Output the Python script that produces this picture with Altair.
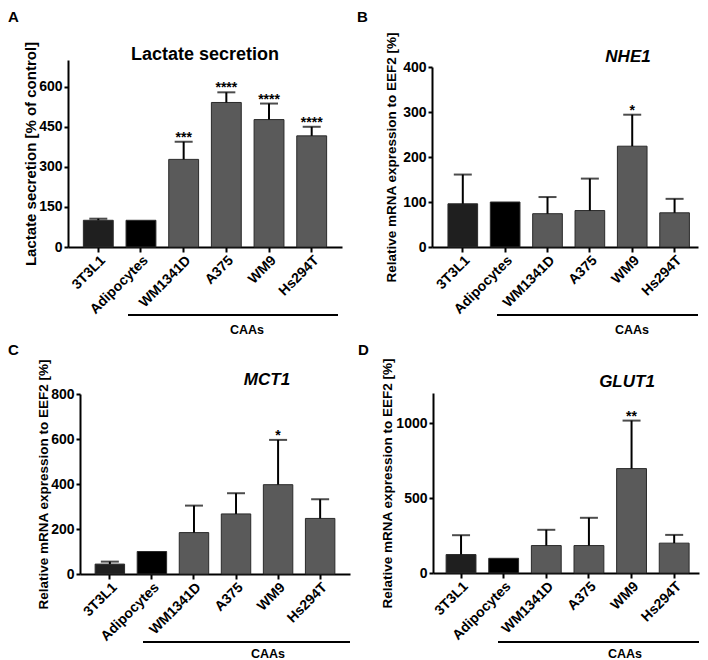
import altair as alt
import pandas as pd

categories = ["3T3L1", "Adipocytes", "WM1341D", "A375", "WM9", "Hs294T"]
bar_colors = ["#1f1f1f", "#000000", "#5a5a5a", "#5a5a5a", "#5a5a5a", "#5a5a5a"]

lactate_mean = [100, 100, 328, 541, 477, 416]
lactate_upper = [106, 100, 394, 579, 537, 450]
lactate_sig = ["", "", "***", "****", "****", "****"]

nhe1_mean = [96, 100, 74, 81, 224, 76]
nhe1_upper = [161, 100, 111, 152, 294, 107]
nhe1_sig = ["", "", "", "", "*", ""]

mct1_mean = [44, 100, 184, 267, 397, 247]
mct1_upper = [55, 100, 304, 359, 596, 332]
mct1_sig = ["", "", "", "", "*", ""]

glut1_mean = [123, 98, 183, 183, 696, 199]
glut1_upper = [252, 98, 288, 368, 1016, 254]
glut1_sig = ["", "", "", "", "**", ""]

group_label = "CAAs"
ytitle_lactate = "Lactate secretion [% of control]"
ytitle_mrna = "Relative mRNA expression to EEF2 [%]"

FONT = "Liberation Sans"


def one(v):
    return alt.Chart(pd.DataFrame({"t": [v]}))


def panel(cfg):
    w, h = cfg["w"], cfg["h"]
    x0 = cfg["x0"]
    df = pd.DataFrame({"cat": categories, "mean": cfg["mean"], "upper": cfg["upper"], "sig": cfg["sig"]})
    xscale = alt.Scale(domain=categories, paddingInner=0.3, paddingOuter=cfg["po"],
                       align=cfg["al"], range=[x0, w])
    xaxis = alt.Axis(title=None, labelAngle=-45, labelFontSize=14, labelFontWeight="bold",
                     tickSize=5, labelPadding=1)
    yscale = alt.Scale(domain=[0, cfg["ymax"]], nice=False, zero=True, range=[h, cfg["y0"]])
    yaxis = alt.Axis(values=cfg["yticks"], title=cfg["ytitle"], titleX=cfg["ytx"],
                     titleY=(h + cfg["y0"]) / 2,
                     titleAngle=270, titleAlign="center", titleBaseline="middle",
                     titleFontSize=cfg["yts"], titleFontWeight="bold",
                     labelFontSize=14, labelFontWeight="bold", tickSize=4, offset=-x0,
                     labelPadding=2, grid=False, format="d")
    X = alt.X("cat:N", sort=categories, scale=xscale, axis=xaxis)
    yt = cfg["ytitle"]
    base = alt.Chart(df)
    bars = base.mark_bar(stroke="#2a2a2a", strokeWidth=1).encode(
        x=X,
        y=alt.Y("mean:Q", scale=yscale, axis=yaxis, title=yt),
        color=alt.Color("cat:N", scale=alt.Scale(domain=categories, range=bar_colors), legend=None),
    )
    err = base.transform_filter("datum.upper > datum.mean")
    rule = err.mark_rule(strokeWidth=2, color="black").encode(
        x=X, y=alt.Y("mean:Q", title=yt), y2="upper:Q")
    cap = err.mark_tick(color="black", thickness=2, size=18).encode(
        x=X, y=alt.Y("upper:Q", title=yt))
    stars = base.mark_text(fontSize=14, fontWeight="bold", baseline="alphabetic", dy=0,
                           font=FONT, color="black").encode(
        x=X, y=alt.Y("upper:Q", title=yt), text="sig:N")
    tx, ty = cfg["tpos"]
    ttl = one(cfg["title"]).mark_text(fontSize=cfg["tsize"], fontWeight="bold",
                                      fontStyle="italic" if cfg["italic"] else "normal",
                                      baseline="middle", align="center", font=FONT, color="black").encode(
        text="t:N", x=alt.value(tx), y=alt.value(ty))
    lx, ly = cfg["lpos"]
    let = one(cfg["letter"]).mark_text(fontSize=15, fontWeight="bold", baseline="top", align="left",
                                       font=FONT, color="black").encode(
        text="t:N", x=alt.value(lx), y=alt.value(ly))
    c1, c2, cy = cfg["cline"]
    cline = one(group_label).mark_rule(strokeWidth=2, color="black").encode(
        x=alt.value(c1), x2=alt.value(c2), y=alt.value(cy))
    ctx, cty = cfg["ctext"]
    ctext = one(group_label).mark_text(fontSize=12.5, fontWeight="bold", baseline="middle",
                                       align="center", font=FONT, color="black").encode(
        text="t:N", x=alt.value(ctx), y=alt.value(cty))
    return alt.layer(bars, rule, cap, stars, ttl, let, cline, ctext).properties(width=w, height=h)


pA = panel(dict(letter="A", title="Lactate secretion", italic=False, tsize=18, tpos=(137, -5),
                mean=lactate_mean, upper=lactate_upper, sig=lactate_sig,
                ymax=700, yticks=[0, 150, 300, 450, 600], ytitle=ytitle_lactate, yts=15, ytx=-38,
                w=274, h=187, x0=0, y0=0, po=0.36, al=0.5,
                lpos=(-60, -50), cline=(60, 270, 255), ctext=(179, 270)))
pB = panel(dict(letter="B", title="NHE1", italic=True, tsize=17, tpos=(196, -3),
                mean=nhe1_mean, upper=nhe1_upper, sig=nhe1_sig,
                ymax=400, yticks=[0, 100, 200, 300, 400], ytitle=ytitle_mrna, yts=13.5, ytx=-41,
                w=266, h=187, x0=0, y0=7, po=0.29, al=0.65,
                lpos=(-75, -50), cline=(65, 266, 255), ctext=(200, 270)))
pC = panel(dict(letter="C", title="MCT1", italic=True, tsize=17, tpos=(199, -13),
                mean=mct1_mean, upper=mct1_upper, sig=mct1_sig,
                ymax=800, yticks=[0, 200, 400, 600, 800], ytitle=ytitle_mrna, yts=13.5, ytx=-37,
                w=282, h=181, x0=12, y0=1, po=0.36, al=0.5,
                lpos=(-60, -50), cline=(75, 282, 249), ctext=(200, 261)))
pD = panel(dict(letter="D", title="GLUT1", italic=True, tsize=17, tpos=(194, -11),
                mean=glut1_mean, upper=glut1_upper, sig=glut1_sig,
                ymax=1200, yticks=[0, 500, 1000], ytitle=ytitle_mrna, yts=13.5, ytx=-46,
                w=266, h=180, x0=0, y0=0, po=0.27, al=0.57,
                lpos=(-75, -50), cline=(65, 266, 249), ctext=(192, 261)))

chart = alt.vconcat(
    alt.hconcat(pA, pB, spacing=15),
    alt.hconcat(pC, pD, spacing=7),
    spacing=6,
).properties(
    padding={"left": 0, "top": 2, "right": 0, "bottom": 0}
).configure_view(strokeWidth=0).configure_axis(
    domainColor="black", domainWidth=2, tickColor="black", tickWidth=2,
    labelColor="black", titleColor="black", labelFont=FONT, titleFont=FONT, grid=False
).configure_text(font=FONT)

chart.save("out.html", embed_options={"renderer": "svg", "actions": False})
